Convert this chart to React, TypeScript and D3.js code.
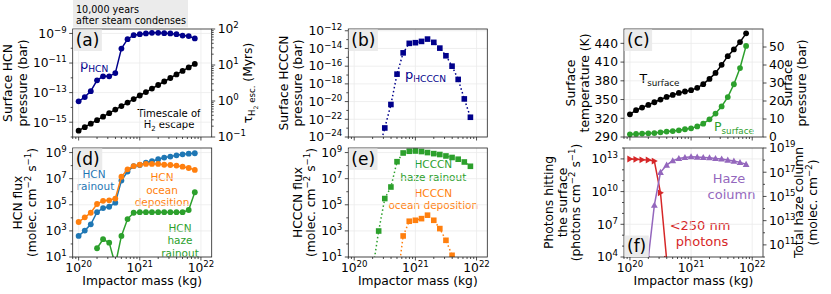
import React from 'react';
import * as d3 from 'd3';

// impactor masses (kg), shared x values of every panel
const impactorMass = [1.0e20, 1.26e20, 1.58e20, 2.0e20, 2.51e20, 3.16e20, 3.98e20, 5.01e20, 6.31e20, 7.94e20,
  1.0e21, 1.26e21, 1.58e21, 2.0e21, 2.51e21, 3.16e21, 3.98e21, 5.01e21, 6.31e21, 7.94e21];

// (a)
const pHCN = [2.6e-14, 5.0e-14, 1.26e-13, 6.8e-13, 1.26e-12, 1.26e-12, 2.1e-12, 9.5e-11, 4.1e-10, 7.6e-10,
  8.9e-10, 1.0e-9, 1.1e-9, 1.1e-9, 1.05e-9, 1.0e-9, 8.9e-10, 7.2e-10, 6.6e-10, 4.6e-10];
const tauH2Escape = [0.150, 0.187, 0.234, 0.294, 0.367, 0.460, 0.576, 0.721, 0.903, 1.13,
  1.42, 1.77, 2.22, 2.78, 3.48, 4.36, 5.46, 6.84, 8.56, 10.7];
// (b)
const pHCCCN = [null, null, null, null, 3e-26, 1.05e-23, 4.7e-21, 1.26e-17, 3.2e-15, 3.8e-14,
  4.5e-14, 6.3e-14, 1.15e-13, 4.9e-14, 1.1e-14, 1.5e-15, 1.0e-16, 3.2e-18, 2.0e-20, 1.7e-22];
// (c)
const tSurface = [326.4, 332.9, 337.2, 341.4, 345.7, 350, 354.2, 357.4, 360.6, 362.9,
  365, 368.7, 374.6, 383.1, 392.7, 405.6, 419.5, 430.3, 442, 456];
const pSurface = [1.5, 1.7, 1.9, 2.05, 2.2, 2.6, 3.0, 3.3, 3.7, 4.3,
  4.8, 5.9, 7.4, 9.8, 13, 17, 22.2, 29.3, 38.3, 50.6];
// (d)
const hcnRainout = [4.1e2, 1.05e3, 3.2e3, 2.7e4, 5.6e4, 7.1e4, 1.45e5, 7.1e6, 3.5e7, 9.3e7,
  1.12e8, 1.7e8, 2.2e8, 3.1e8, 4.1e8, 4.9e8, 6.2e8, 7.4e8, 8.3e8, 8.9e8];
const hcnOcean = [4.8e3, 1.1e4, 2.45e4, 1.15e5, 2.0e5, 2.2e5, 3.0e5, 1.4e7, 5.2e7, 9.3e7,
  1.17e8, 1.35e8, 1.35e8, 1.35e8, 1.17e8, 1.12e8, 1.0e8, 8.3e7, 6.6e7, 4.7e7];
const hcnHaze = [null, null, null, 47, 230, 126, 2.5, 410, 8.1e3, 2.45e4,
  2.7e4, 2.7e4, 2.7e4, 2.7e4, 2.7e4, 2.7e4, 2.7e4, 2.7e4, 4.0e4, 9.1e5];
// (e)
const hcccnHaze = [null, null, null, 1, 980, 3.0e5, 2.3e6, 2.0e8, 9.3e8, 1.26e9,
  1.32e9, 1.2e9, 1.0e9, 8.3e8, 7.1e8, 5.5e8, 4.2e8, 3.1e8, 1.9e8, 8.9e7];
const hcccnOcean = [null, null, null, null, null, null, null, 0.1, 410, 5.5e3,
  6.5e3, 8.7e3, 1.6e4, 6.5e3, 1.5e3, 190, 13.5, 0.3, null, null];
// (f)
const uvPhotons = [9.8e12, 9.1e12, 8.3e12, 7.9e12, 6.3e12, 7.8e9, 6.3e3, null, null, null,
  null, null, null, null, null, null, null, null, null, null];
const hazeColumn = [null, null, null, 9e9, 1.9e14, 9.8e16, 3.9e17, 8.9e17, 1.38e18, 1.66e18,
  1.9e18, 1.78e18, 1.66e18, 1.58e18, 1.38e18, 1.23e18, 1.0e18, 8.3e17, 6.5e17, 4.5e17];

// tick values
const xMajor = [1e20, 1e21, 1e22];
const ticksA = [1e-15, 1e-13, 1e-11, 1e-9];
const ticksARight = [0.1, 1, 10, 100];
const ticksB = [1e-24, 1e-22, 1e-20, 1e-18, 1e-16, 1e-14, 1e-12];
const ticksC = [290, 320, 350, 380, 410, 440];
const ticksCRight = [0, 10, 20, 30, 40, 50];
const ticksFlux = [1e1, 1e3, 1e5, 1e7, 1e9];
const ticksF = [1e4, 1e7, 1e10, 1e13];
const ticksFRight = [1e11, 1e13, 1e15, 1e17, 1e19];

const FONT = 'DejaVu Sans';
const TS = 12.3;
const C0 = '#1f77b4', C1 = '#ff7f0e', C2 = '#2ca02c', C3 = '#d62728', C4 = '#9467bd', NAVY = '#00008b';

const colX = [72.7, 348.3, 624];
const W = 139;
const rowY = [[29, 137], [148, 257]];

type Part = [string, string];
const Rich = ({ parts, size }: { parts: Part[]; size: number }) => {
  let cur = 0;
  return (
    <>
      {parts.map(([t, k], i) => {
        const off = k === 'sup' ? -0.4 * size : k === 'sub' ? 0.25 * size : k === 'subsub' ? 0.45 * size : 0;
        const fs = k === 'n' ? size : k === 'subsub' ? size * 0.5 : size * 0.7;
        const dy = off - cur;
        cur = off;
        return <tspan key={i} dy={dy} fontSize={fs} style={{ whiteSpace: 'pre' }}>{t}</tspan>;
      })}
    </>
  );
};

const expLabel = (v: number): Part[] => {
  const e = Math.round(Math.log10(v));
  return [['10', 'n'], [String(e).replace('-', '\u2212'), 'sup']];
};

const minorDecades = (major: number[], lo: number, hi: number) => {
  const out: number[] = [];
  for (let e = Math.floor(Math.log10(lo)); e <= Math.ceil(Math.log10(hi)); e++) {
    const v = Math.pow(10, e);
    if (v >= lo && v <= hi && !major.some(m => Math.abs(Math.log10(m) - e) < 1e-6)) out.push(v);
  }
  return out;
};
const minorSubs = (lo: number, hi: number) => {
  const out: number[] = [];
  for (let e = Math.floor(Math.log10(lo)); e <= Math.ceil(Math.log10(hi)); e++) {
    for (let s = 2; s <= 9; s++) {
      const v = s * Math.pow(10, e);
      if (v >= lo && v <= hi) out.push(v);
    }
  }
  return out;
};

type Axis = { log: boolean; domain: [number, number]; major: number[]; minor: number[] };
type Series = { v: (number | null)[]; c: string; m: string; ax: 'L' | 'R'; dotted?: boolean };
type PanelCfg = {
  key: string; col: number; row: number; left: Axis; right?: Axis; series: Series[];
  tag: string; tagBottom?: boolean; xLabels: boolean;
};

const logAxis = (domain: [number, number], major: number[], subs = false): Axis => ({
  log: true, domain, major,
  minor: subs ? minorSubs(domain[0], domain[1]) : minorDecades(major, domain[0], domain[1]),
});

const panels: PanelCfg[] = [
  {
    key: 'a', col: 0, row: 0, tag: '(a)', xLabels: false,
    left: logAxis([1e-16, 2e-9], ticksA),
    right: logAxis([0.1, 100], ticksARight, true),
    series: [
      { v: pHCN, c: NAVY, m: 'circle', ax: 'L' },
      { v: tauH2Escape, c: '#000', m: 'circle', ax: 'R' },
    ],
  },
  {
    key: 'b', col: 1, row: 0, tag: '(b)', xLabels: false,
    left: logAxis([1e-24, Math.pow(10, -11.8)], ticksB),
    series: [{ v: pHCCCN, c: NAVY, m: 'square', ax: 'L', dotted: true }],
  },
  {
    key: 'c', col: 2, row: 0, tag: '(c)', xLabels: false,
    left: { log: false, domain: [290, 463], major: ticksC, minor: [] },
    right: { log: false, domain: [0, 60], major: ticksCRight, minor: [] },
    series: [
      { v: tSurface, c: '#000', m: 'circle', ax: 'L' },
      { v: pSurface, c: C2, m: 'circle', ax: 'R' },
    ],
  },
  {
    key: 'd', col: 0, row: 1, tag: '(d)', xLabels: true,
    left: logAxis([10, Math.pow(10, 9.35)], ticksFlux),
    series: [
      { v: hcnRainout, c: C0, m: 'circle', ax: 'L' },
      { v: hcnOcean, c: C1, m: 'circle', ax: 'L' },
      { v: hcnHaze, c: C2, m: 'circle', ax: 'L' },
    ],
  },
  {
    key: 'e', col: 1, row: 1, tag: '(e)', xLabels: true,
    left: logAxis([10, Math.pow(10, 9.35)], ticksFlux),
    series: [
      { v: hcccnHaze, c: C2, m: 'square', ax: 'L', dotted: true },
      { v: hcccnOcean, c: C1, m: 'square', ax: 'L', dotted: true },
    ],
  },
  {
    key: 'f', col: 2, row: 1, tag: '(f)', tagBottom: true, xLabels: true,
    left: logAxis([1e4, 1e14], ticksF),
    right: logAxis([1e10, 1e19], ticksFRight),
    series: [
      { v: uvPhotons, c: C3, m: 'triR', ax: 'L' },
      { v: hazeColumn, c: C4, m: 'triU', ax: 'R' },
    ],
  },
];

const makeScale = (a: Axis, y0: number, y1: number) =>
  a.log ? d3.scaleLog().domain(a.domain).range([y1, y0]) : d3.scaleLinear().domain(a.domain).range([y1, y0]);

const Marker = ({ m, x, y, c }: { m: string; x: number; y: number; c: string }) => {
  if (m === 'circle') return <circle cx={x} cy={y} r={2.9} fill={c} />;
  if (m === 'square') return <rect x={x - 2.8} y={y - 2.8} width={5.6} height={5.6} fill={c} />;
  if (m === 'triR') return <polygon points={`${x + 3.4},${y} ${x - 2.6},${y - 3.4} ${x - 2.6},${y + 3.4}`} fill={c} />;
  return <polygon points={`${x},${y - 3.5} ${x - 3.4},${y + 2.6} ${x + 3.4},${y + 2.6}`} fill={c} />;
};

const charW: Record<string, number> = { '(': 0.39, ')': 0.39, a: 0.613, b: 0.635, c: 0.55, d: 0.635, e: 0.615, f: 0.352 };

const Panel = ({ p }: { p: PanelCfg }) => {
  const x0 = colX[p.col], x1 = x0 + W;
  const [y0, y1] = rowY[p.row];
  const xs = d3.scaleLog().domain([8e19, 1.5e22]).range([x0, x1]);
  const yl = makeScale(p.left, y0, y1);
  const yr = p.right ? makeScale(p.right, y0, y1) : null;
  const xMinor = minorSubs(8e19, 1.5e22);
  const clip = `clip-${p.key}`;
  const tagW = p.tag.split('').reduce((s, ch) => s + (charW[ch] || 0.6), 0) * 17 + 5;
  const ty0 = p.tagBottom ? y1 - 22 : y0;
  return (
    <g>
      <defs>
        <clipPath id={clip}>
          <rect x={x0} y={y0} width={W} height={y1 - y0} />
        </clipPath>
      </defs>
      {/* grid */}
      <g stroke="#ebebeb" strokeWidth={0.8}>
        {xMajor.map(v => <line key={v} x1={xs(v)} x2={xs(v)} y1={y0} y2={y1} />)}
        {p.left.major.map(v => <line key={v} x1={x0} x2={x1} y1={yl(v)} y2={yl(v)} />)}
      </g>
      {/* ticks */}
      <g stroke="#222" strokeWidth={0.8}>
        {xMajor.map(v => <line key={v} x1={xs(v)} x2={xs(v)} y1={y1} y2={y1 + 3.5} />)}
        {xMinor.map(v => <line key={v} x1={xs(v)} x2={xs(v)} y1={y1} y2={y1 + 2} />)}
        {p.left.major.map(v => <line key={v} x1={x0 - 3.5} x2={x0} y1={yl(v)} y2={yl(v)} />)}
        {p.left.minor.map(v => <line key={v} x1={x0 - 2} x2={x0} y1={yl(v)} y2={yl(v)} />)}
        {p.right && yr && p.right.major.map(v => <line key={v} x1={x1} x2={x1 + 3.5} y1={yr(v)} y2={yr(v)} />)}
        {p.right && yr && p.right.minor.map(v => <line key={v} x1={x1} x2={x1 + 2} y1={yr(v)} y2={yr(v)} />)}
      </g>
      <g fontFamily={FONT} fontSize={TS} fill="#000">
        {p.xLabels && xMajor.map(v => (
          <text key={v} x={xs(v)} y={y1 + 14.5} textAnchor="middle"><Rich parts={expLabel(v)} size={TS} /></text>
        ))}
        {p.left.major.map(v => (
          <text key={v} x={x0 - 6} y={yl(v) + 4.3} textAnchor="end">
            {p.left.log ? <Rich parts={expLabel(v)} size={TS} /> : String(v)}
          </text>
        ))}
        {p.right && yr && p.right.major.map(v => (
          <text key={v} x={x1 + 6} y={yr(v) + 4.3} textAnchor="start">
            {p.right!.log ? <Rich parts={expLabel(v)} size={TS} /> : String(v)}
          </text>
        ))}
      </g>
      {/* data */}
      <g clipPath={`url(#${clip})`}>
        {p.series.map((s, si) => {
          const ys = s.ax === 'R' && yr ? yr : yl;
          const line = d3.line<number | null>()
            .defined(v => v != null)
            .x((_, i) => xs(impactorMass[i]))
            .y(v => ys(v as number));
          return (
            <g key={si}>
              <path d={line(s.v) || ''} fill="none" stroke={s.c} strokeWidth={1.5}
                strokeDasharray={s.dotted ? '1.5 2.5' : undefined} />
              {s.v.map((v, i) => v == null ? null : (
                <Marker key={i} m={s.m} x={xs(impactorMass[i])} y={ys(v)} c={s.c} />
              ))}
            </g>
          );
        })}
      </g>
      <rect x={x0} y={y0} width={W} height={y1 - y0} fill="none" stroke="#222" strokeWidth={0.8} />
      <rect x={x0 + 0.5} y={ty0 + 0.5} width={tagW} height={21.5} fill="#ebebeb" />
      <text x={x0 + 3} y={ty0 + 17} fontFamily={FONT} fontSize={17}>{p.tag}</text>
      {p.xLabels && (
        <text x={(x0 + x1) / 2} y={y1 + 27.5} textAnchor="middle" fontFamily={FONT} fontSize={TS}>Impactor mass (kg)</text>
      )}
    </g>
  );
};

const units: Part[] = [['(molec. cm', 'n'], ['\u22122', 'sup'], [' s', 'n'], ['\u22121', 'sup'], [')', 'n']];

// rotated axis titles: x position of each line centre, y centre
const yTitles: { x: number; y: number; parts: Part[] }[] = [
  { x: 12, y: 83, parts: [['Surface HCN', 'n']] },
  { x: 26.5, y: 83, parts: [['pressure (bar)', 'n']] },
  { x: 252, y: 83, parts: [['\u03c4', 'n'], ['H', 'sub'], ['2', 'subsub'], [' esc.', 'sub'], [' (Myrs)', 'n']] },
  { x: 22, y: 202.5, parts: [['HCN flux', 'n']] },
  { x: 35.5, y: 202.5, parts: units },
  { x: 287.5, y: 83, parts: [['Surface HCCCN', 'n']] },
  { x: 301.5, y: 83, parts: [['pressure (bar)', 'n']] },
  { x: 301.5, y: 202.5, parts: [['HCCCN flux', 'n']] },
  { x: 315, y: 202.5, parts: units },
  { x: 575, y: 83, parts: [['Surface', 'n']] },
  { x: 588.5, y: 83, parts: [['temperature (K)', 'n']] },
  { x: 792, y: 83, parts: [['Surface', 'n']] },
  { x: 806, y: 83, parts: [['pressure (bar)', 'n']] },
  { x: 553, y: 202.5, parts: [['Photons hitting', 'n']] },
  { x: 566.5, y: 202.5, parts: [['the surface', 'n']] },
  { x: 580, y: 202.5, parts: [['(photons cm', 'n'], ['\u22122', 'sup'], [' s', 'n'], ['\u22121', 'sup'], [')', 'n']] },
  { x: 803, y: 202.5, parts: [['Total haze column', 'n']] },
  { x: 817, y: 202.5, parts: [['(molec. cm', 'n'], ['\u22122', 'sup'], [')', 'n']] },
];

// in-plot annotations
const notes: { x: number; y: number; c: string; size: number; anchor: string; parts: Part[] }[] = [
  { x: 80, y: 68.5, c: NAVY, size: 13, anchor: 'start', parts: [['p', 'n'], ['HCN', 'sub']] },
  { x: 169, y: 117, c: '#000', size: 10, anchor: 'middle', parts: [['Timescale of', 'n']] },
  { x: 169, y: 128, c: '#000', size: 10, anchor: 'middle', parts: [['H', 'n'], ['2', 'sub'], [' escape', 'n']] },
  { x: 405, y: 78.5, c: NAVY, size: 13, anchor: 'start', parts: [['p', 'n'], ['HCCCN', 'sub']] },
  { x: 639.5, y: 82.5, c: '#000', size: 12.5, anchor: 'start', parts: [['T', 'n'], ['surface', 'sub']] },
  { x: 714, y: 131, c: C2, size: 12.5, anchor: 'start', parts: [['P', 'n'], ['surface', 'sub']] },
  { x: 94, y: 177.5, c: C0, size: 10.5, anchor: 'middle', parts: [['HCN', 'n']] },
  { x: 95.5, y: 190, c: C0, size: 10.5, anchor: 'middle', parts: [['rainout', 'n']] },
  { x: 162, y: 181, c: C1, size: 10.5, anchor: 'middle', parts: [['HCN', 'n']] },
  { x: 162, y: 193.5, c: C1, size: 10.5, anchor: 'middle', parts: [['ocean', 'n']] },
  { x: 162, y: 206, c: C1, size: 10.5, anchor: 'middle', parts: [['deposition', 'n']] },
  { x: 180, y: 231.5, c: C2, size: 10.5, anchor: 'middle', parts: [['HCN', 'n']] },
  { x: 180, y: 244, c: C2, size: 10.5, anchor: 'middle', parts: [['haze', 'n']] },
  { x: 180, y: 256.5, c: C2, size: 10.5, anchor: 'middle', parts: [['rainout', 'n']] },
  { x: 433.3, y: 168, c: C2, size: 10.5, anchor: 'middle', parts: [['HCCCN', 'n']] },
  { x: 433.3, y: 181, c: C2, size: 10.5, anchor: 'middle', parts: [['haze rainout', 'n']] },
  { x: 433.3, y: 196.5, c: C1, size: 10.5, anchor: 'middle', parts: [['HCCCN', 'n']] },
  { x: 433.3, y: 209, c: C1, size: 10.5, anchor: 'middle', parts: [['ocean deposition', 'n']] },
  { x: 729, y: 183, c: C4, size: 13, anchor: 'middle', parts: [['Haze', 'n']] },
  { x: 731.5, y: 199, c: C4, size: 13, anchor: 'middle', parts: [['column', 'n']] },
  { x: 700, y: 230, c: C3, size: 13, anchor: 'middle', parts: [['<250 nm', 'n']] },
  { x: 702, y: 245.5, c: C3, size: 13, anchor: 'middle', parts: [['photons', 'n']] },
];

export default function App() {
  return (
    <svg width={831} height={294} viewBox="0 0 831 294"
      style={{ position: 'absolute', left: 0, top: 0, background: '#fff' }}>
      <rect width={831} height={294} fill="#fff" />
      <rect x={73} y={0} width={115} height={27.5} fill="#ebebeb" />
      <text x={76} y={12.5} fontFamily={FONT} fontSize={9.6}>10,000 years</text>
      <text x={76} y={23.5} fontFamily={FONT} fontSize={9.6}>after steam condenses</text>
      <g>
        {notes.map((n, i) => (
          <text key={i} x={n.x} y={n.y} fill={n.c} fontFamily={FONT} fontSize={n.size}
            textAnchor={n.anchor as any}><Rich parts={n.parts} size={n.size} /></text>
        ))}
      </g>
      {panels.map(p => <Panel key={p.key} p={p} />)}
      <g fontFamily={FONT} fontSize={TS}>
        {yTitles.map((t, i) => (
          <text key={i} transform={`translate(${t.x},${t.y}) rotate(-90)`} textAnchor="middle" dy="0.35em">
            <Rich parts={t.parts} size={TS} />
          </text>
        ))}
      </g>
    </svg>
  );
}
